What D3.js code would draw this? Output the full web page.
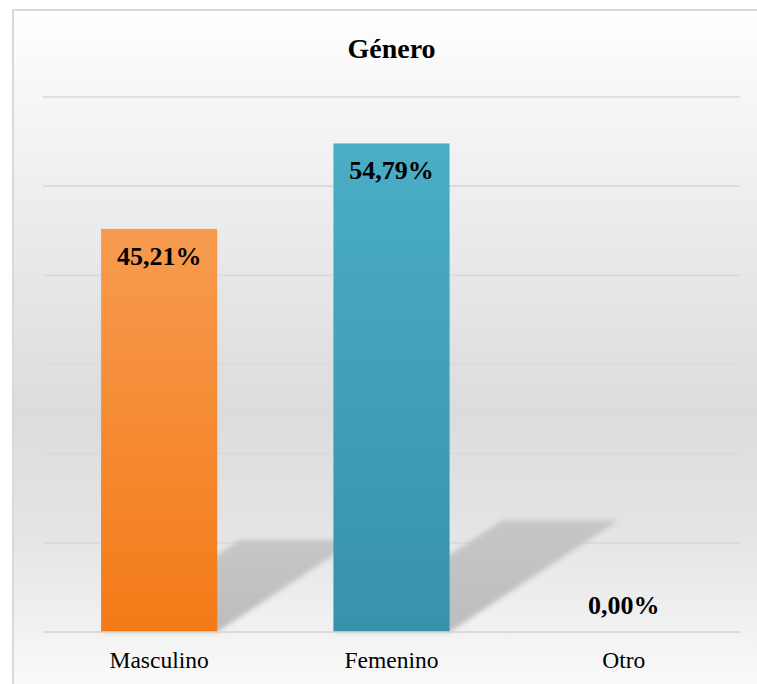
<!DOCTYPE html>
<html>
<head>
<meta charset="utf-8">
<script src="https://cdn.jsdelivr.net/npm/d3@7"></script>
<style>
html,body{margin:0;padding:0;background:#fff;}
svg{display:block;}
svg text{font-family:"Liberation Serif","Times New Roman",Times,Tinos,"DejaVu Serif",serif;}
</style>
</head>
<body>
<div id="chart"></div>
<script>
const title = "Género";
const categories = ["Masculino", "Femenino", "Otro"];
const values = [45.21, 54.79, 0.00];
const valueLabels = ["45,21%", "54,79%", "0,00%"];
const yTicks = [0, 10, 20, 30, 40, 50, 60];
const barTopColors = ["#f79b50", "#4badc6", "#a5a5a5"];
const barBottomColors = ["#f47a17", "#3792ac", "#8a8a8a"];

const W = 757, H = 684;
const svg = d3.select("#chart").append("svg").attr("width", W).attr("height", H);
const defs = svg.append("defs");

const bg = defs.append("linearGradient").attr("id", "bgGrad")
  .attr("x1", 0).attr("y1", 0).attr("x2", 0).attr("y2", 1);
[[0, "#ffffff"], [0.13, "#f6f6f6"], [0.4, "#e6e6e6"], [0.58, "#dcdcdc"], [0.75, "#e4e4e4"],
 [0.88, "#f0f0f0"], [0.95, "#f8f8f8"], [1, "#fafafa"]].forEach(s =>
  bg.append("stop").attr("offset", s[0]).attr("stop-color", s[1]));

categories.forEach((c, i) => {
  const g = defs.append("linearGradient").attr("id", "barGrad" + i)
    .attr("x1", 0).attr("y1", 0).attr("x2", 0).attr("y2", 1);
  g.append("stop").attr("offset", 0).attr("stop-color", barTopColors[i]);
  g.append("stop").attr("offset", 1).attr("stop-color", barBottomColors[i]);
});

const shGrad = defs.append("linearGradient").attr("id", "shadowGrad")
  .attr("x1", 0).attr("y1", 1).attr("x2", 0).attr("y2", 0);
shGrad.append("stop").attr("offset", 0).attr("stop-color", "#bdbdbd");
shGrad.append("stop").attr("offset", 1).attr("stop-color", "#c6c6c6");

defs.append("filter").attr("id", "blur").attr("x", "-20%").attr("y", "-20%")
  .attr("width", "140%").attr("height", "140%")
  .append("feGaussianBlur").attr("stdDeviation", 2.5);

svg.append("rect").attr("x", 13).attr("y", 10).attr("width", W + 10).attr("height", H + 10)
  .attr("fill", "url(#bgGrad)").attr("stroke", "#d9d9d9").attr("stroke-width", 2);

const x = d3.scaleBand().domain(categories).range([43, 740]).paddingInner(0.5).paddingOuter(0.25);
const y = d3.scaleLinear().domain([0, 60]).range([632, 97]);

svg.append("g").selectAll("line").data(yTicks).join("line")
  .attr("x1", 43).attr("x2", 740)
  .attr("y1", d => y(d)).attr("y2", d => y(d))
  .attr("stroke", "#d9d9d9").attr("stroke-width", 1.6);

const data = categories.map((c, i) => ({ c, v: values[i], label: valueLabels[i], i }));

svg.append("g").attr("filter", "url(#blur)").selectAll("path").data(data.filter(d => d.v > 0)).join("path")
  .attr("d", d => {
    const x0 = x(d.c), x1 = x0 + x.bandwidth();
    const h = y(0) - y(d.v);
    const dx = 0.345 * h, dy = 0.228 * h;
    const b = y(0);
    return `M${x0},${b}L${x1},${b}L${x1 + dx},${b - dy}L${x0 + dx},${b - dy}Z`;
  })
  .attr("fill", "url(#shadowGrad)");

svg.append("g").selectAll("rect").data(data.filter(d => d.v > 0)).join("rect")
  .attr("x", d => x(d.c)).attr("width", x.bandwidth())
  .attr("y", d => y(d.v)).attr("height", d => y(0) - y(d.v))
  .attr("fill", d => `url(#barGrad${d.i})`);

svg.append("line").attr("x1", 43).attr("x2", 740).attr("y1", y(0)).attr("y2", y(0))
  .attr("stroke", "#d9d9d9").attr("stroke-width", 1.6);

svg.append("g").selectAll("text").data(data).join("text")
  .attr("x", d => x(d.c) + x.bandwidth() / 2)
  .attr("y", d => (y(0) - y(d.v) > 50) ? y(d.v) + 36 : y(d.v) - 18)
  .attr("text-anchor", "middle")
  .attr("font-weight", "bold").attr("font-size", 26).attr("fill", "#000")
  .text(d => d.label);

svg.append("g").selectAll("text").data(categories).join("text")
  .attr("x", d => x(d) + x.bandwidth() / 2).attr("y", 668)
  .attr("text-anchor", "middle")
  .attr("font-size", 23.5).attr("fill", "#000")
  .text(d => d);

svg.append("text").attr("x", (43 + 740) / 2).attr("y", 58)
  .attr("text-anchor", "middle")
  .attr("font-weight", "bold").attr("font-size", 28).attr("fill", "#000")
  .text(title);
</script>
</body>
</html>
